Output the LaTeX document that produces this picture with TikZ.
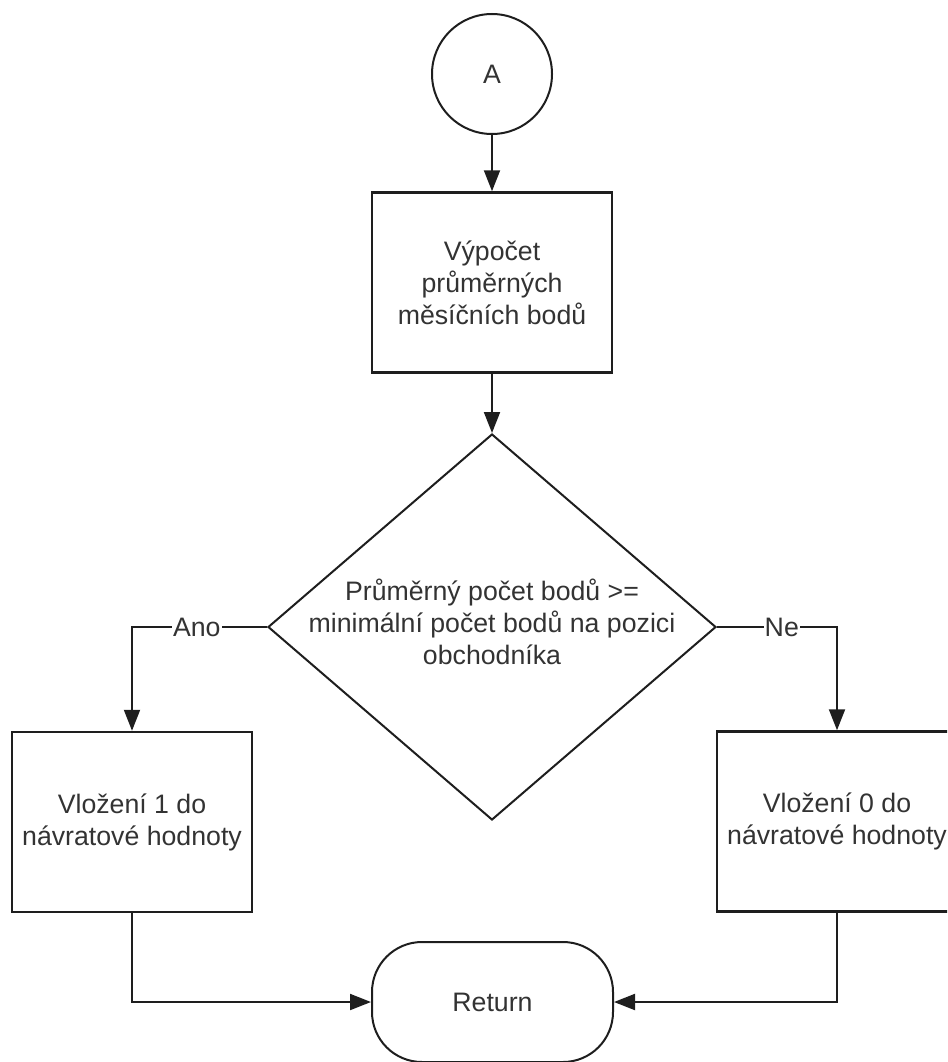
\documentclass[tikz,border=0pt]{standalone}
\usepackage{fontspec}
\setmainfont{Liberation Sans}
\usetikzlibrary{shapes.geometric,arrows.meta}
\definecolor{ink}{HTML}{1E1E1E}
\definecolor{txt}{HTML}{333333}
\begin{document}
\begin{tikzpicture}[x=1pt,y=-1pt,
  every node/.style={font=\fontsize{26.7}{32}\selectfont, text=txt},
  procbox/.style={draw=ink, line width=2.5pt, minimum width=240pt, minimum height=180pt, align=center, inner sep=0pt},
  connector/.style={draw=ink, line width=2pt},
  flow/.style={connector, -{Triangle[length=21pt,width=16pt]}},
  branchlabel/.style={fill=white, inner sep=1pt}
]
\useasboundingbox (0,0) rectangle (947,1062);
\clip (0,0) rectangle (947,1062);

% connector circle at the top
\node[circle, draw=ink, line width=2pt, minimum size=120pt, inner sep=0pt] (start) at (492,74) {A};

% processing step
\node[procbox] (calc) at (492,282.5) {Výpočet\\průměrných\\měsíčních bodů};

% decision
\node[diamond, draw=ink, line width=2pt, minimum width=448pt, minimum height=386pt, inner sep=0pt,
      label={[align=center, yshift=5pt]center:Průměrný počet bodů >=\\minimální počet bodů na pozici\\obchodníka}] (dec) at (492,627) {};

% results
\node[procbox] (yes) at (132,822) {Vložení 1 do\\návratové hodnoty};
\node[procbox] (no) at (837,821.5) {Vložení 0 do\\návratové hodnoty};

% terminator
\node[draw=ink, line width=2pt, rounded corners=50pt, minimum width=241pt, minimum height=120pt, inner sep=0pt] (ret) at (492.5,1002) {Return};

% connectors
\draw[flow] (start.south) -- (calc.north);
\draw[flow] (calc.south) -- (dec.north);
\draw[flow] (dec.west) -| node[branchlabel, pos=0.26] {Ano} (yes.north);
\draw[flow] (dec.east) -| node[branchlabel, pos=0.27] {Ne} (no.north);
\draw[flow] (yes.south) |- (ret.west);
\draw[flow] (no.south) |- (ret.east);
\end{tikzpicture}
\end{document}
